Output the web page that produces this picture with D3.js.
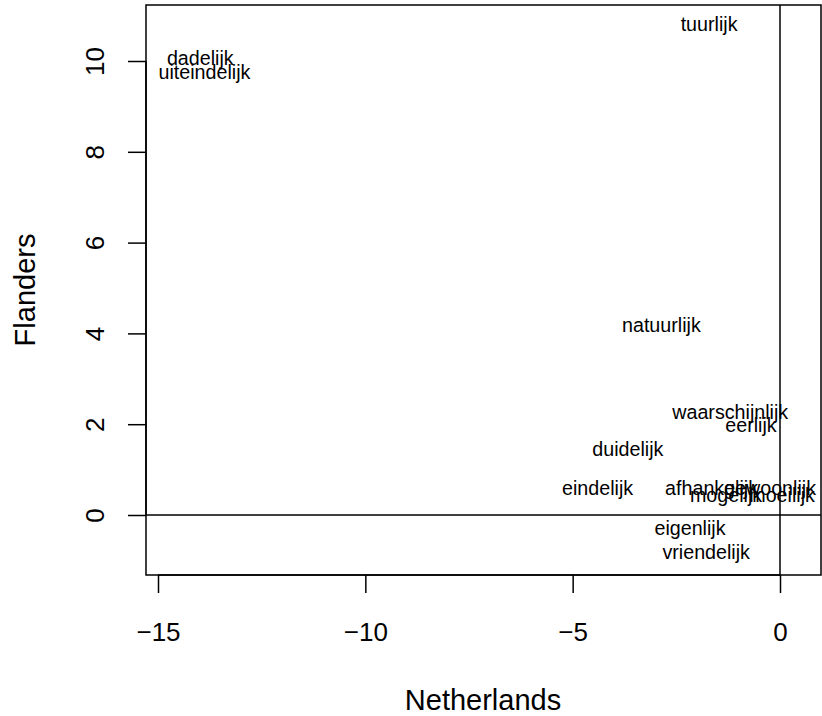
<!DOCTYPE html>
<html>
<head>
<meta charset="utf-8">
<script src="https://cdn.jsdelivr.net/npm/d3@7"></script>
<style>
html,body{margin:0;padding:0;background:#fff;}
svg{display:block;font-family:"Liberation Sans",Arial,Helvetica,sans-serif;}
</style>
</head>
<body>
<svg id="chart" width="822" height="716"></svg>
<script>
// Data
const words = ["tuurlijk","dadelijk","uiteindelijk","natuurlijk","waarschijnlijk","eerlijk","duidelijk","eindelijk","afhankelijk","mogelijk","gewoonlijk","moeilijk","eigenlijk","vriendelijk"];
const netherlands = [-1.71,-13.98,-13.88,-2.86,-1.20,-0.70,-3.67,-4.40,-1.65,-1.30,-0.24,0.05,-2.17,-1.78];
const flanders = [10.81,10.07,9.76,4.18,2.27,1.98,1.45,0.59,0.59,0.44,0.59,0.44,-0.29,-0.81];
const xTicks = [-15,-10,-5,0];
const yTicks = [0,2,4,6,8,10];

const svg = d3.select("#chart");
const box = {left:146, right:821, top:5, bottom:575};

const x = d3.scaleLinear().domain([-15, 0]).range([158, 780]);
const y = d3.scaleLinear().domain([0, 10]).range([515, 61]);

// reference lines
svg.append("line").attr("x1", box.left).attr("x2", box.right)
  .attr("y1", y(0)).attr("y2", y(0)).attr("stroke","#000").attr("stroke-width",1.5);
svg.append("line").attr("x1", x(0)).attr("x2", x(0))
  .attr("y1", box.top).attr("y2", box.bottom).attr("stroke","#000").attr("stroke-width",1.5);

// box
svg.append("rect").attr("x", box.left).attr("y", box.top)
  .attr("width", box.right - box.left).attr("height", box.bottom - box.top)
  .attr("fill","none").attr("stroke","#000").attr("stroke-width",1.5);

// x axis
const xAxis = svg.append("g").attr("transform", `translate(0,${box.bottom})`)
  .call(d3.axisBottom(x).tickValues(xTicks).tickSize(18)
    .tickFormat(d => d < 0 ? "\u2212" + Math.abs(d) : String(d)));
xAxis.select(".domain").attr("stroke-width",1.5).attr("d", `M${x(-15)},0H${x(0)}`);
xAxis.selectAll(".tick line").attr("stroke-width",1.5);
xAxis.selectAll(".tick text").attr("font-size",26).attr("font-family","Liberation Sans, Arial, sans-serif").attr("fill","#000")
  .attr("y",57).attr("dy",null).attr("dominant-baseline","central");

// y axis
const yAxis = svg.append("g").attr("transform", `translate(${box.left},0)`)
  .call(d3.axisLeft(y).tickValues(yTicks).tickSize(18).tickPadding(0).tickFormat(d3.format("d")));
yAxis.select(".domain").attr("stroke-width",1.5).attr("d", `M0,${y(0)}V${y(10)}`);
yAxis.selectAll(".tick line").attr("stroke-width",1.5);
yAxis.selectAll(".tick text")
  .attr("font-size",26).attr("font-family","Liberation Sans, Arial, sans-serif").attr("fill","#000")
  .attr("x",null).attr("dy",null)
  .attr("text-anchor","middle").attr("dominant-baseline","central")
  .attr("transform","translate(-51,0) rotate(-90)");

// axis titles
svg.append("text").attr("x", 483).attr("y", 700).attr("text-anchor","middle")
  .attr("dominant-baseline","central").attr("font-size",29).text("Netherlands");
svg.append("text").attr("transform", "translate(25,290) rotate(-90)").attr("text-anchor","middle")
  .attr("dominant-baseline","central").attr("font-size",29).text("Flanders");

// labels
svg.append("g").selectAll("text").data(words).join("text")
  .attr("x", (d,i) => x(netherlands[i]))
  .attr("y", (d,i) => y(flanders[i]))
  .attr("text-anchor","middle").attr("dominant-baseline","central")
  .attr("font-size",19.7).attr("fill","#000").text(d => d);
</script>
</body>
</html>
